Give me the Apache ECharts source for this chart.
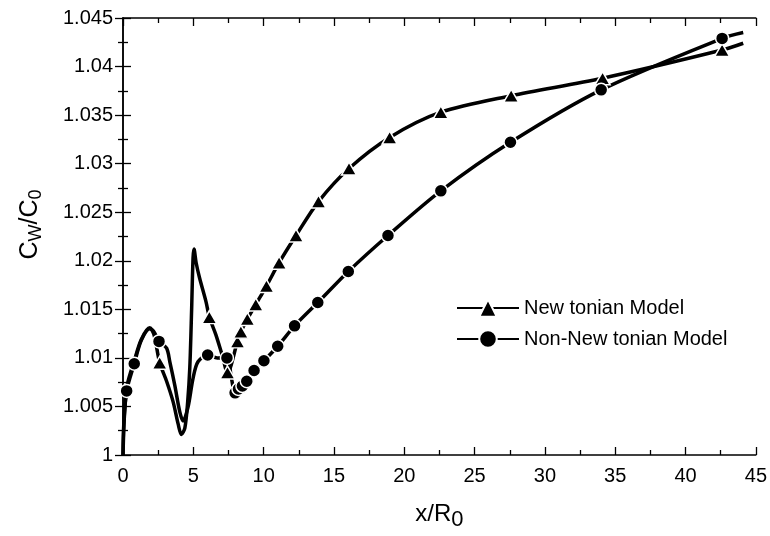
<!DOCTYPE html>
<html>
<head>
<meta charset="utf-8">
<script src="https://cdn.jsdelivr.net/npm/echarts@6/dist/echarts.min.js"></script>
<style>
  html, body { margin: 0; padding: 0; background: #ffffff; }
  #chart { width: 770px; height: 536px; }
</style>
</head>
<body>
<div id="chart"></div>
<script>
// 牛顿模型：曲线上的点（无标记）和带三角标记的点
const newtonLineX = [0, 0.1, 0.3, 0.8, 1.3, 1.9, 2.2, 3.1, 3.56, 3.92, 4.15, 4.4, 4.6, 4.75, 4.88, 4.98, 5.05, 5.2, 5.45, 5.9, 6.6, 7.05, 44.1]
const newtonLineY = [1.0, 1.004, 1.0072, 1.0097, 1.0119, 1.0131, 1.0124, 1.0076, 1.0055, 1.0032, 1.0021, 1.0028, 1.0055, 1.009, 1.015, 1.0203, 1.0212, 1.0198, 1.0182, 1.0158, 1.0124, 1.0103, 1.0424]
const newtonMarkX = [2.61, 6.14, 7.43, 8.14, 8.38, 8.84, 9.44, 10.2, 11.1, 12.3, 13.9, 16.07, 18.96, 22.6, 27.6, 34.1, 42.6]
const newtonMarkY = [1.0095, 1.0142, 1.0085, 1.0117, 1.0127, 1.014, 1.0155, 1.0174, 1.0198, 1.0226, 1.0261, 1.0295, 1.0327, 1.0353, 1.037, 1.0388, 1.0417]

// 非牛顿模型：曲线上的点和带圆点标记的点
const nonNewtonLineX = [0, 0.05, 1.3, 1.9, 2.2, 3.1, 3.33, 3.68, 4.03, 4.27, 4.62, 4.98, 5.33, 6.7, 7.7, 44.1]
const nonNewtonLineY = [1.0, 1.003, 1.0118, 1.013, 1.0127, 1.011, 1.0096, 1.0072, 1.0045, 1.0035, 1.0049, 1.0079, 1.0096, 1.01, 1.008, 1.0435]
const nonNewtonMarkX = [0.26, 0.8, 2.56, 6.02, 7.39, 7.97, 8.21, 8.49, 8.8, 9.32, 10.02, 11.0, 12.2, 13.85, 16.02, 18.84, 22.6, 27.55, 34.0, 42.6]
const nonNewtonMarkY = [1.0066, 1.0094, 1.0117, 1.0103, 1.01, 1.0064, 1.0068, 1.0071, 1.0076, 1.0087, 1.0097, 1.0112, 1.0133, 1.0157, 1.0189, 1.0226, 1.0272, 1.0322, 1.0376, 1.0429]

const seriesNames = ['New tonian Model', 'Non-New tonian Model']
const xTicks = { min: 0, max: 45, interval: 5 }
const yTicks = { min: 1, max: 1.045, interval: 0.005 }

// 合并曲线点和标记点，按 x 排序
function buildData (lx, ly, mx, my) {
  const pts = []
  lx.forEach((x, i) => pts.push({ value: [x, ly[i]], symbol: 'none' }))
  mx.forEach((x, i) => pts.push({ value: [x, my[i]] }))
  return pts.sort((a, b) => a.value[0] - b.value[0])
}

const font = 'Liberation Sans, Arial, sans-serif'

function axisBase (t, pos, showLabel) {
  return {
    type: 'value',
    position: pos,
    min: t.min,
    max: t.max,
    interval: t.interval,
    axisLine: { show: true, lineStyle: { color: '#000', width: 1.5 } },
    axisTick: { show: true, inside: true, length: 8, lineStyle: { color: '#000', width: 1.3 } },
    minorTick: { show: true, splitNumber: 2, length: 5, lineStyle: { color: '#000', width: 1.3 } },
    splitLine: { show: false },
    minorSplitLine: { show: false },
    axisLabel: { show: showLabel, color: '#000', fontSize: 20, fontFamily: font }
  }
}

const xBottom = axisBase(xTicks, 'bottom', true)
xBottom.axisLabel.margin = 11
xBottom.name = '{t|x/R}{s|0}'
xBottom.nameLocation = 'middle'
xBottom.nameGap = 42
xBottom.nameTextStyle = {
  rich: {
    t: { fontSize: 24, fontFamily: font, color: '#000' },
    s: { fontSize: 22, fontFamily: font, color: '#000', padding: [12, 0, 0, 0] }
  }
}

const yLeft = axisBase(yTicks, 'left', true)
yLeft.axisLabel.margin = 10
yLeft.axisLabel.formatter = v => String(parseFloat(v.toFixed(3)))
yLeft.name = '{t|C}{s|W}{t|/C}{s|0}'
yLeft.nameLocation = 'middle'
yLeft.nameRotate = 90
yLeft.nameGap = 78
yLeft.nameTextStyle = {
  padding: [0, 0, 0, 24],
  rich: {
    t: { fontSize: 25, fontFamily: font, color: '#000' },
    s: { fontSize: 18, fontFamily: font, color: '#000', padding: [12, 0, 0, 0] }
  }
}

const lineBase = {
  type: 'line',
  smooth: 0.3,
  showSymbol: true,
  showAllSymbol: true,
  lineStyle: { color: '#000', width: 3.5 },
  itemStyle: { color: '#000', borderColor: '#fff', borderWidth: 1.5 },
  z: 3
}

const chart = echarts.init(document.getElementById('chart'))
chart.setOption({
  animation: false,
  backgroundColor: '#ffffff',
  grid: { left: 123, right: 10, top: 18, bottom: 74, containLabel: false },
  legend: {
    data: seriesNames.map(n => ({ name: n })),
    orient: 'vertical',
    left: 451,
    top: 293,
    itemWidth: 62,
    itemHeight: 22,
    itemGap: 11,
    textStyle: { color: '#000', fontSize: 20, fontFamily: font }
  },
  xAxis: [xBottom, axisBase(xTicks, 'top', false)],
  yAxis: [yLeft, axisBase(yTicks, 'right', false)],
  series: [
    Object.assign({}, lineBase, {
      name: seriesNames[0],
      symbol: 'triangle',
      symbolSize: [15, 13],
      data: buildData(newtonLineX, newtonLineY, newtonMarkX, newtonMarkY)
    }),
    Object.assign({}, lineBase, {
      name: seriesNames[1],
      symbol: 'circle',
      symbolSize: 13,
      data: buildData(nonNewtonLineX, nonNewtonLineY, nonNewtonMarkX, nonNewtonMarkY)
    })
  ]
})
</script>
</body>
</html>
